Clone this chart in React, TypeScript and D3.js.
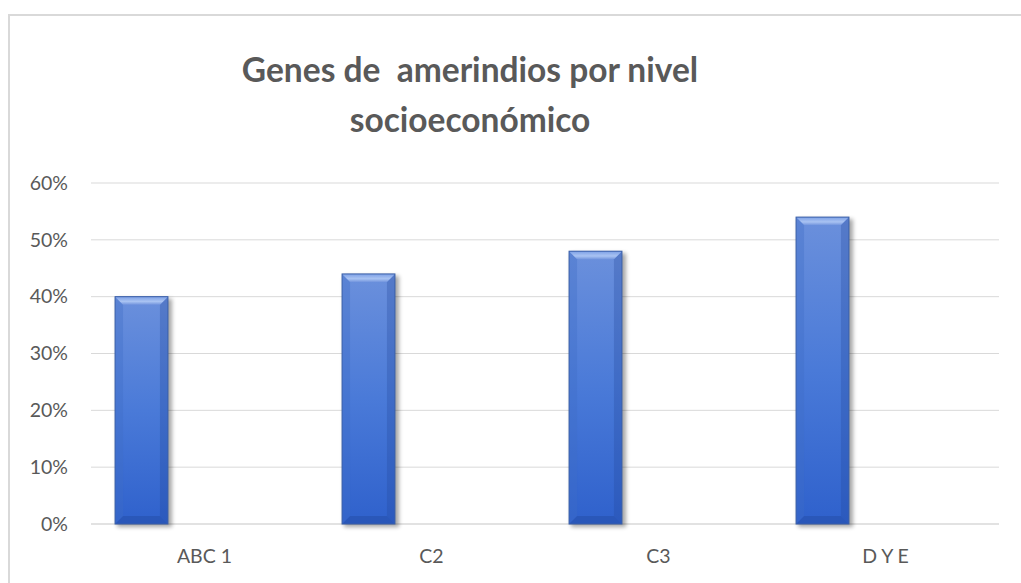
import * as d3 from "d3";

// values
const categories = ["ABC 1", "C2", "C3", "D Y E"];
const values = [0.4, 0.44, 0.48, 0.54];
const yTicks = [0, 0.1, 0.2, 0.3, 0.4, 0.5, 0.6];
const titleLines = ["Genes de  amerindios por nivel", "socioeconómico"];

const W = 1021;
const H = 583;
const plot = { left: 91, right: 999, top: 183, bottom: 524 };
const textColor = "#595959";
const font = "Lato, 'Open Sans', sans-serif";

export default function App() {
  const x = d3.scaleBand<string>().domain(categories).range([plot.left, plot.right]);
  const y = d3.scaleLinear().domain([0, 0.6]).range([plot.bottom, plot.top]);
  const fmt = d3.format(".0%");
  const band = x.bandwidth();
  const barW = band * 0.233;
  const barOff = band * 0.106;
  const b = 8; // bevel size

  return (
    <svg width={W} height={H} style={{ position: "absolute", left: 0, top: 0, background: "#fff" }}>
      <defs>
        <linearGradient id="barFill" x1="0" y1="0" x2="0" y2="1">
          <stop offset="0%" stopColor="#6b90dc" />
          <stop offset="50%" stopColor="#4a7ad8" />
          <stop offset="100%" stopColor="#2f61cc" />
        </linearGradient>
        <linearGradient id="topBevel" x1="0" y1="0" x2="0" y2="1">
          <stop offset="0%" stopColor="#7da0e6" />
          <stop offset="60%" stopColor="#a9c3f2" />
          <stop offset="100%" stopColor="#7496de" />
        </linearGradient>
        <filter id="shadow" x="-30%" y="-10%" width="160%" height="120%">
          <feGaussianBlur stdDeviation="2.2" />
        </filter>
      </defs>

      {/* outer chart border */}
      <rect x={9} y={15} width={W + 20} height={H + 20} fill="none" stroke="#d9d9d9" strokeWidth={2} />

      {/* title */}
      <text x={470} fill={textColor} fontFamily={font} fontWeight="bold" fontSize={33.5} textAnchor="middle">
        {titleLines.map((l, i) => (
          <tspan key={i} x={470} y={82 + i * 50} style={{ whiteSpace: "pre" }}>
            {l}
          </tspan>
        ))}
      </text>

      {/* gridlines + y labels */}
      {yTicks.map((t) => (
        <g key={t}>
          <line
            x1={plot.left}
            x2={plot.right}
            y1={y(t)}
            y2={y(t)}
            stroke="#d9d9d9"
            strokeWidth={t === 0 ? 1.6 : 1}
          />
          <text
            x={68}
            y={y(t)}
            dy="0.35em"
            textAnchor="end"
            fill={textColor}
            fontFamily={font}
            fontSize={19.5}
          >
            {fmt(t)}
          </text>
        </g>
      ))}

      {/* bars */}
      {categories.map((c, i) => {
        const x0 = (x(c) as number) + barOff;
        const x1 = x0 + barW;
        const y0 = y(values[i]);
        const y1 = y(0);
        return (
          <g key={c}>
            <rect x={x0 + 2} y={y0 + 2} width={barW + 2} height={y1 - y0 + 1} fill="#000" opacity={0.35} filter="url(#shadow)" />
            <rect x={x0} y={y0} width={barW} height={y1 - y0} fill="url(#barFill)" />
            {/* side bevels */}
            <polygon points={`${x0},${y0} ${x0 + b},${y0 + b} ${x0 + b},${y1 - b} ${x0},${y1}`} fill="#3f6cc6" opacity={0.35} />
            <polygon points={`${x1},${y0} ${x1 - b},${y0 + b} ${x1 - b},${y1 - b} ${x1},${y1}`} fill="#23489a" opacity={0.3} />
            <polygon points={`${x0},${y1} ${x0 + b},${y1 - b} ${x1 - b},${y1 - b} ${x1},${y1}`} fill="#1f4496" opacity={0.35} />
            <polygon points={`${x0},${y0} ${x1},${y0} ${x1 - b},${y0 + b} ${x0 + b},${y0 + b}`} fill="url(#topBevel)" />
            <rect x={x0} y={y0} width={barW} height={y1 - y0} fill="none" stroke="#3a5fa8" strokeWidth={1} />
          </g>
        );
      })}

      {/* x labels */}
      {categories.map((c) => (
        <text
          key={c}
          x={(x(c) as number) + band / 2}
          y={563}
          textAnchor="middle"
          fill={textColor}
          fontFamily={font}
          fontSize={19.5}
        >
          {c}
        </text>
      ))}
    </svg>
  );
}
